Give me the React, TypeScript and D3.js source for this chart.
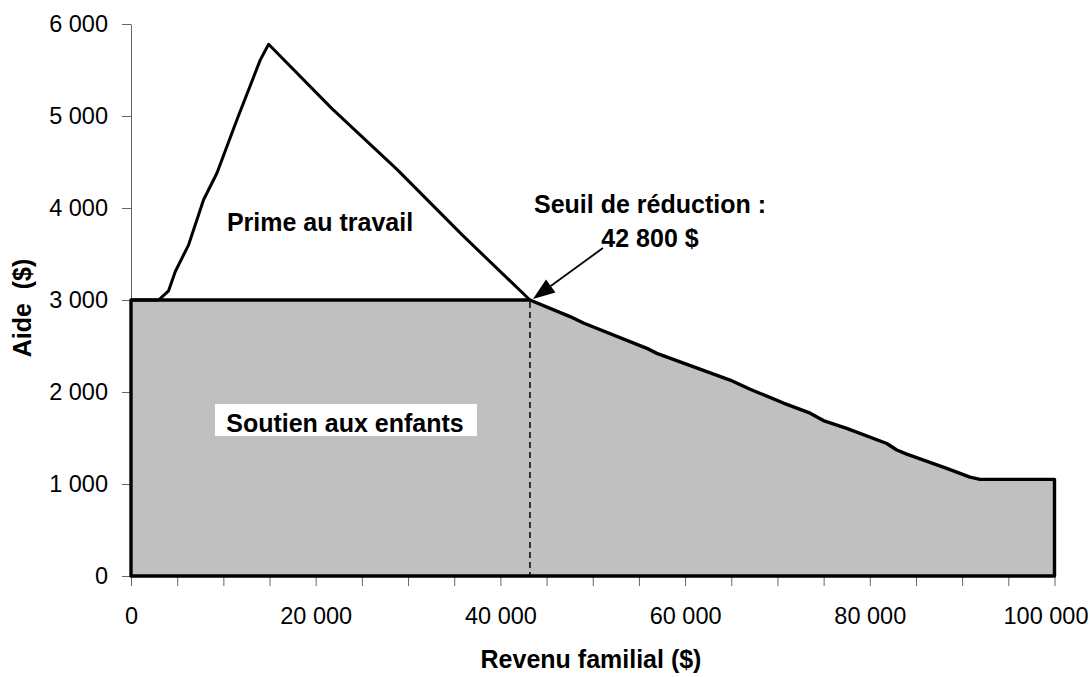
import * as React from 'react';
import {useEffect, useRef} from 'react';
import * as d3 from 'd3';

const width = 1090;
const height = 677;

// upper curve: soutien aux enfants + prime au travail
const totalIncome = [0, 2990, 4070, 4800, 6240, 7860, 9310, 11470, 14000, 14900, 21760, 28800, 35830, 43200];
const totalAid = [3000, 3000, 3100, 3310, 3600, 4090, 4380, 4960, 5610, 5780, 5080, 4420, 3710, 3000];

// lower curve: soutien aux enfants
const supportIncome = [0, 43200, 47540, 48990, 55860, 56940, 64870, 67040, 70650, 73540, 74980, 77500, 81840, 82920, 84000, 88330, 90850, 91940, 100000];
const supportAid = [3000, 3000, 2820, 2750, 2475, 2420, 2130, 2030, 1880, 1770, 1690, 1605, 1440, 1370, 1325, 1170, 1075, 1050, 1050];

const threshold = 43200;
const thresholdAid = 3000;

const xTicks = [0, 5000, 10000, 15000, 20000, 25000, 30000, 35000, 40000, 45000, 50000,
  55000, 60000, 65000, 70000, 75000, 80000, 85000, 90000, 95000, 100000];
const xLabelled = [0, 20000, 40000, 60000, 80000, 100000];
const yTicks = [0, 1000, 2000, 3000, 4000, 5000, 6000];

const font = '"Liberation Sans", Arial, sans-serif';

const fr = d3.formatLocale({decimal: ',', thousands: ' ', grouping: [3], currency: ['', ' $']});
const fmt = fr.format(',d');

export default function App() {
  const ref = useRef<SVGSVGElement>(null);

  useEffect(() => {
    const svg = d3.select(ref.current);
    svg.selectAll('*').remove();

    const x = d3.scaleLinear().domain([0, 100000]).range([131, 1054.5]);
    const y = d3.scaleLinear().domain([0, 6000]).range([576, 24]);

    const total = totalIncome.map((v, i) => [v, totalAid[i]] as [number, number]);
    const support = supportIncome.map((v, i) => [v, supportAid[i]] as [number, number]);

    // axes
    const xAxis = svg.append('g')
      .attr('transform', `translate(0,${y(0)})`)
      .call(d3.axisBottom(x)
        .tickValues(xTicks)
        .tickSize(10)
        .tickSizeOuter(0)
        .tickPadding(21)
        .tickFormat((d: any) => xLabelled.includes(d) ? fmt(d) : ''));

    // last label sits against the right edge
    xAxis.selectAll('text')
      .filter((d: any) => d === 100000)
      .attr('dx', -9);

    const yAxis = svg.append('g')
      .attr('transform', `translate(${x(0)},0)`)
      .call(d3.axisLeft(y)
        .tickValues(yTicks)
        .tickSize(9)
        .tickSizeOuter(0)
        .tickPadding(14)
        .tickFormat((d: any) => fmt(d)));

    [xAxis, yAxis].forEach(g => {
      g.selectAll('path, line').attr('stroke', '#666').attr('stroke-width', 1);
      g.selectAll('text')
        .attr('fill', '#000')
        .style('font-family', font)
        .style('font-size', '23.5px');
    });

    // grey area
    const area = d3.area<[number, number]>()
      .x(d => x(d[0]))
      .y0(y(0))
      .y1(d => y(d[1]));

    svg.append('path')
      .attr('d', area(support))
      .attr('fill', '#c0c0c0');

    const outline = d3.line<[number, number]>()
      .x(d => x(d[0]))
      .y(d => y(d[1]));

    svg.append('path')
      .attr('d', outline([...support, [100000, 0], [0, 0]]) + 'Z')
      .attr('fill', 'none')
      .attr('stroke', '#000')
      .attr('stroke-width', 3.4)
      .attr('stroke-linejoin', 'round');

    svg.append('path')
      .attr('d', outline(total))
      .attr('fill', 'none')
      .attr('stroke', '#000')
      .attr('stroke-width', 3)
      .attr('stroke-linejoin', 'round');

    // threshold dashed line
    svg.append('line')
      .attr('x1', x(threshold))
      .attr('x2', x(threshold))
      .attr('y1', y(thresholdAid) + 2)
      .attr('y2', y(0))
      .attr('stroke', '#000')
      .attr('stroke-width', 1.5)
      .attr('stroke-dasharray', '6,4');

    // arrow
    const tipX = x(threshold) + 3;
    const tipY = y(thresholdAid) - 1;
    const sx = tipX + 70;
    const sy = tipY - 51;
    const len = Math.hypot(sx - tipX, sy - tipY);
    const ux = (sx - tipX) / len;
    const uy = (sy - tipY) / len;
    const headLen = 22;
    const headW = 8;
    const bx = tipX + ux * headLen;
    const by = tipY + uy * headLen;
    svg.append('line')
      .attr('x1', sx).attr('y1', sy)
      .attr('x2', bx).attr('y2', by)
      .attr('stroke', '#000')
      .attr('stroke-width', 1.8);
    svg.append('polygon')
      .attr('points', [
        [tipX, tipY],
        [bx - uy * headW, by + ux * headW],
        [bx + uy * headW, by - ux * headW]
      ].map(p => p.join(',')).join(' '))
      .attr('fill', '#000');

    // labels
    const label = (txt: string, lx: number, ly: number) =>
      svg.append('text')
        .attr('x', lx)
        .attr('y', ly)
        .attr('text-anchor', 'middle')
        .style('font-family', font)
        .style('font-size', '25px')
        .style('font-weight', 'bold')
        .style('white-space', 'pre')
        .text(txt);

    label('Prime au travail', 320, 231);
    label('Seuil de réduction :', 650, 213);
    label('42 800 $', 650, 247);

    svg.append('rect')
      .attr('x', 215)
      .attr('y', 404)
      .attr('width', 262)
      .attr('height', 32)
      .attr('fill', '#fff');
    label('Soutien aux enfants', 345, 432);

    label('Revenu familial ($)', 591, 668);
    label('Aide  ($)', 0, 0)
      .attr('transform', 'translate(31,308) rotate(-90)');
  }, []);

  return (
    <svg
      ref={ref}
      width={width}
      height={height}
      style={{position: 'absolute', left: 0, top: 0, background: '#fff'}}
    />
  );
}
